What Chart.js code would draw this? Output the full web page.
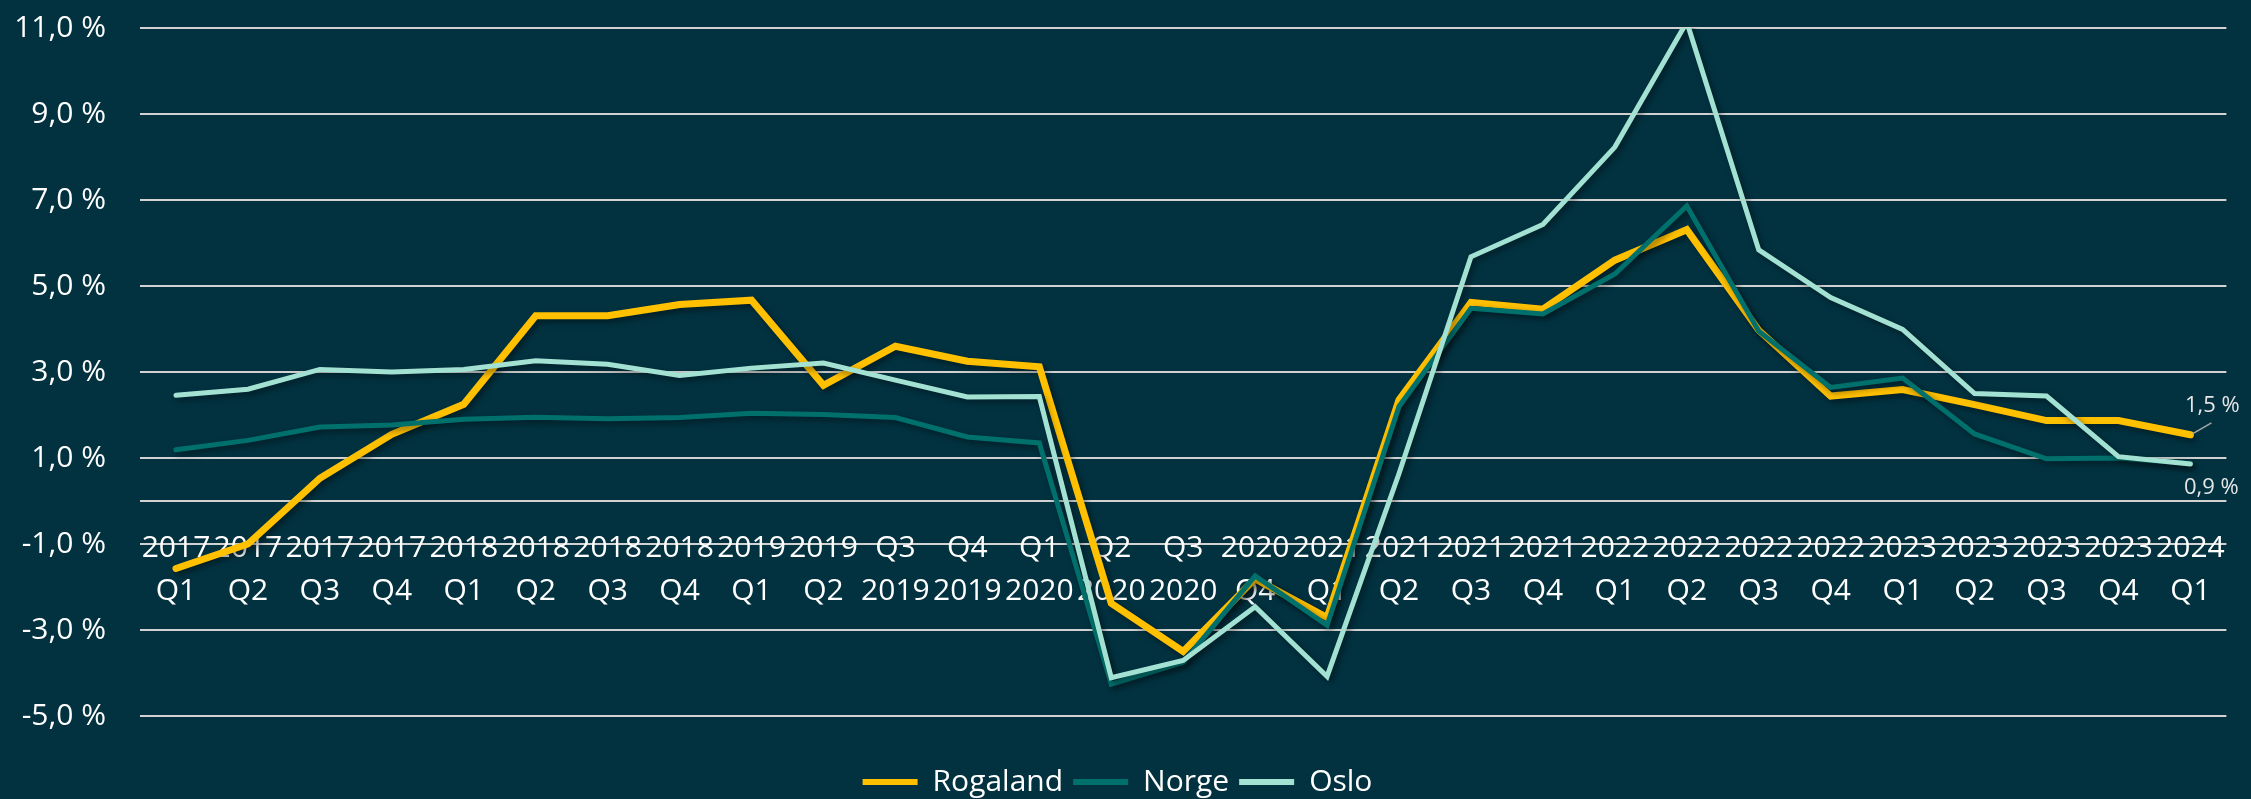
<!DOCTYPE html>
<html>
<head>
<meta charset="utf-8">
<script src="https://cdn.jsdelivr.net/npm/chart.js@4/dist/chart.umd.min.js"></script>
<style>
  html, body { margin: 0; padding: 0; background: #023240; }
  #wrap { width: 2251px; height: 799px; }
</style>
</head>
<body>
<div id="wrap"><canvas id="pris"></canvas></div>
<script>
// kvartaler
const kvartaler = [
  ['2017','Q1'],['2017','Q2'],['2017','Q3'],['2017','Q4'],
  ['2018','Q1'],['2018','Q2'],['2018','Q3'],['2018','Q4'],
  ['2019','Q1'],['2019','Q2'],['Q3','2019'],['Q4','2019'],
  ['Q1','2020'],['Q2','2020'],['Q3','2020'],['2020','Q4'],
  ['2021','Q1'],['2021','Q2'],['2021','Q3'],['2021','Q4'],
  ['2022','Q1'],['2022','Q2'],['2022','Q3'],['2022','Q4'],
  ['2023','Q1'],['2023','Q2'],['2023','Q3'],['2023','Q4'],
  ['2024','Q1']
]

const rogaland = [-1.57,-1.0,0.53,1.55,2.25,4.31,4.31,4.57,4.67,2.69,3.60,3.25,3.12,-2.38,-3.50,-1.81,-2.71,2.35,4.62,4.46,5.60,6.31,3.97,2.44,2.59,2.24,1.87,1.87,1.54]
const norge    = [1.19,1.41,1.72,1.77,1.90,1.95,1.91,1.94,2.04,2.01,1.94,1.49,1.35,-4.26,-3.75,-1.74,-2.89,2.20,4.48,4.35,5.28,6.86,3.95,2.64,2.86,1.56,0.98,1.00,0.87]
const oslo     = [2.46,2.60,3.06,3.00,3.06,3.26,3.18,2.92,3.09,3.21,2.81,2.42,2.43,-4.11,-3.71,-2.46,-4.08,0.64,5.68,6.43,8.23,11.14,5.84,4.73,3.99,2.50,2.44,1.03,0.86]

const yTicks = [-5,-3,-1,0,1,3,5,7,9,11]

const fmt = v => v.toFixed(1).replace('.', ',') + ' %'

const font = 'Open Sans'

// skygge under linjene
const skygge = {
  id: 'skygge',
  beforeDatasetDraw(chart) {
    const c = chart.ctx
    c.save()
    c.shadowColor = 'rgba(0,0,0,0.45)'
    c.shadowBlur = 6
    c.shadowOffsetX = 3
    c.shadowOffsetY = 3
  },
  afterDatasetDraw(chart) {
    chart.ctx.restore()
  }
}

// etiketter på siste punkt
const sisteVerdi = {
  id: 'sisteVerdi',
  afterDatasetsDraw(chart) {
    const c = chart.ctx
    c.save()
    c.font = '22px "' + font + '"'
    c.fillStyle = '#e6e6e6'
    c.textAlign = 'center'
    c.textBaseline = 'middle'

    // Rogaland, over med strek
    let p = chart.getDatasetMeta(0).data[rogaland.length - 1]
    c.strokeStyle = '#a6a6a6'
    c.lineWidth = 1.5
    c.beginPath()
    c.moveTo(p.x + 2, p.y - 1)
    c.lineTo(p.x + 21, p.y - 12)
    c.stroke()
    c.fillText(fmt(rogaland[rogaland.length - 1]), p.x + 22, p.y - 29)

    // Oslo, under
    p = chart.getDatasetMeta(2).data[oslo.length - 1]
    c.fillText(fmt(oslo[oslo.length - 1]), p.x + 21, p.y + 24)
    c.restore()
  }
}

const ctx = document.getElementById('pris')

new Chart(ctx, {
  type: 'line',
  data: {
    labels: kvartaler,
    datasets: [
      {
        label: 'Rogaland',
        data: rogaland,
        borderColor: '#FFC000',
        backgroundColor: '#FFC000',
        borderWidth: 7,
        order: 3
      },
      {
        label: 'Norge',
        data: norge,
        borderColor: '#00706C',
        backgroundColor: '#00706C',
        borderWidth: 5,
        order: 2
      },
      {
        label: 'Oslo',
        data: oslo,
        borderColor: '#A3E2D3',
        backgroundColor: '#A3E2D3',
        borderWidth: 5,
        order: 1
      }
    ]
  },
  options: {
    responsive: true,
    maintainAspectRatio: false,
    devicePixelRatio: 1,
    animation: false,
    elements: {
      point: { radius: 0 },
      line: { tension: 0, borderCapStyle: 'round', borderJoinStyle: 'miter', fill: false }
    },
    layout: { padding: { top: 28, right: 16, bottom: -8, left: 0 } },
    scales: {
      x: {
        type: 'category',
        offset: true,
        position: { y: 0 },
        grid: { display: false, drawTicks: false },
        border: { display: false },
        ticks: {
          color: '#ffffff',
          font: { family: font, size: 30, lineHeight: 1.43 },
          padding: 26,
          autoSkip: false,
          maxRotation: 0,
          minRotation: 0
        }
      },
      y: {
        min: -5,
        max: 11,
        afterBuildTicks(scale) {
          scale.ticks = yTicks.map(v => ({ value: v }))
        },
        afterFit(scale) {
          scale.width = 140
          scale.paddingTop = 0
          scale.paddingBottom = 0
        },
        grid: { color: '#d2d2d2', lineWidth: 2, drawTicks: false },
        border: { display: false },
        ticks: {
          color: '#ffffff',
          font: { family: font, size: 30 },
          padding: 34,
          callback: v => (v === 0 ? '' : fmt(v))
        }
      }
    },
    plugins: {
      tooltip: { enabled: false },
      legend: {
        position: 'bottom',
        title: {
          display: true,
          text: '',
          font: { size: 10, lineHeight: 1 },
          padding: { top: 31, bottom: 0 }
        },
        labels: {
          color: '#ffffff',
          font: { family: font, size: 30 },
          boxWidth: 55,
          boxHeight: 6,
          padding: 10,
          sort: (a, b) => a.datasetIndex - b.datasetIndex,
          generateLabels(chart) {
            const items = Chart.defaults.plugins.legend.labels.generateLabels(chart)
            items.forEach(it => {
              it.lineWidth = 0
              it.fillStyle = it.strokeStyle
            })
            return items
          }
        }
      }
    }
  },
  plugins: [skygge, sisteVerdi]
})
</script>
</body>
</html>
